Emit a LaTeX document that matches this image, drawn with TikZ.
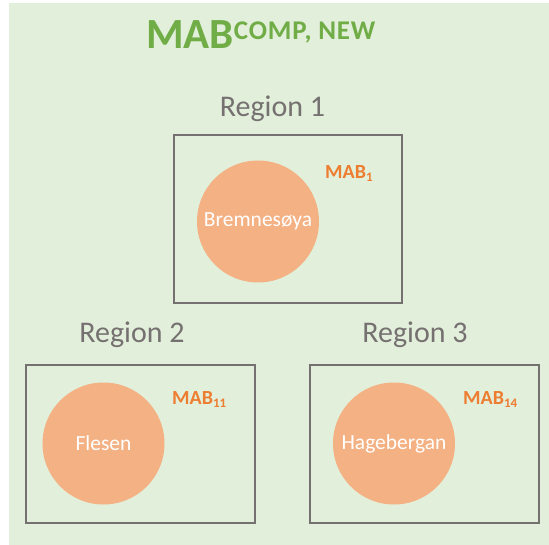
\documentclass[tikz,border=0pt]{standalone}
\usepackage{fontspec}
\setmainfont{Carlito}
\definecolor{bggreen}{HTML}{E2EFDA}
\definecolor{titlegreen}{HTML}{70AD47}
\definecolor{maborange}{HTML}{ED7D31}
\definecolor{sitefill}{HTML}{F4B183}
\definecolor{framegray}{HTML}{767171}
\newcommand{\fs}[1]{\fontsize{#1}{#1}\selectfont}
\newcommand{\mabsub}[1]{{\fs{20}\bfseries MAB\raisebox{-3pt}{\fs{13}#1}}}
\begin{document}
\begin{tikzpicture}[x=1pt,y=-1pt,
  regionbox/.style={draw=framegray,line width=2.8pt,inner sep=0pt},
  regionlabel/.style={text=framegray,anchor=base,inner sep=0pt,font=\fs{30}},
  site/.style={circle,fill=sitefill,text=white,inner sep=0pt,minimum size=#1,font=\fs{21.5}},
  site/.default=122pt,
  mablabel/.style={text=maborange,anchor=base west,inner sep=0pt}]
  \useasboundingbox (0,0) rectangle (549,545);
  \fill[bggreen] (9,3) rectangle (549,545);

  % title
  \node[anchor=base west,inner sep=0pt,text=titlegreen] (title) at (146,49)
    {{\fs{43}\bfseries MAB}\raisebox{9pt}{\fs{27}\bfseries\addfontfeature{LetterSpace=3}COMP, NEW}};

  % region 1
  \node[regionlabel] (r1lab) at (272.5,117) {Region 1};
  \node[regionbox,minimum width=228pt,minimum height=168pt] (r1) at (288,219) {};
  \node[site] (s1) at (258,221.5) {Bremnesøya};
  \node[mablabel] (m1) at (325,179) {\mabsub{1}};

  % region 2
  \node[regionlabel] (r2lab) at (132,342) {Region 2};
  \node[regionbox,minimum width=229pt,minimum height=158pt] (r2) at (140.5,444) {};
  \node[site] (s2) at (103.5,443.5) {Flesen};
  \node[mablabel] (m2) at (172,404) {\mabsub{11}};

  % region 3
  \node[regionlabel] (r3lab) at (415,342) {Region 3};
  \node[regionbox,minimum width=229pt,minimum height=158pt] (r3) at (424.5,444) {};
  \node[site] (s3) at (394,443.5) {Hagebergan};
  \node[mablabel] (m3) at (463,404) {\mabsub{14}};
\end{tikzpicture}
\end{document}
